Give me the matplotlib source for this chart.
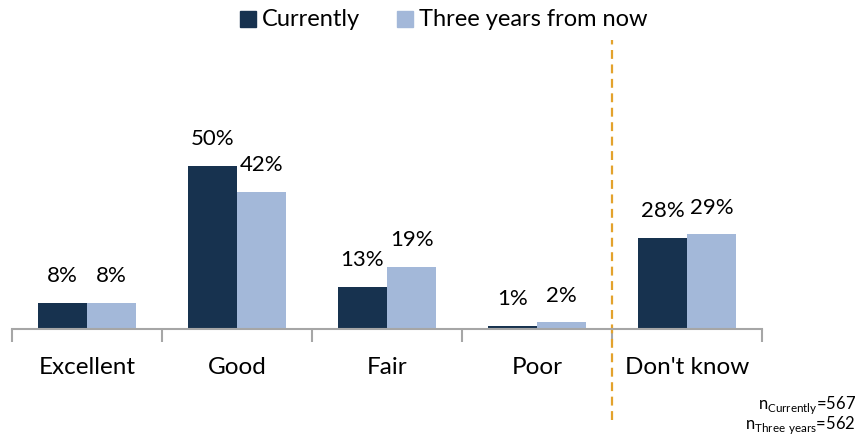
import matplotlib
matplotlib.use("Agg")
import matplotlib.pyplot as plt
from matplotlib.patches import Rectangle

categories = ["Excellent", "Good", "Fair", "Poor", "Don't know"]
currently = [8, 50, 13, 1, 28]
three_years = [8, 42, 19, 2, 29]
n_currently = 567
n_three_years = 562

dark = "#17324F"
light = "#A3B8D9"

plt.rcParams['font.family'] = ['Lato', 'DejaVu Sans']
plt.rcParams['mathtext.fontset'] = 'custom'
plt.rcParams['mathtext.rm'] = 'Lato'

fig = plt.figure(figsize=(8.59, 4.41), dpi=100)
ax = fig.add_axes([12 / 859, 1 - 329 / 441, 750 / 859, 196 / 441])

w = 0.327
x = list(range(len(categories)))
ax.bar([i - w / 2 for i in x], currently, width=w, color=dark)
ax.bar([i + w / 2 for i in x], three_years, width=w, color=light)

for i in x:
    ax.text(i - w / 2, currently[i] + 6.3, f"{currently[i]}%", ha='center', va='baseline', fontsize=16)
    ax.text(i + w / 2, three_years[i] + 6.3, f"{three_years[i]}%", ha='center', va='baseline', fontsize=16)

ax.set_xlim(-0.5, len(categories) - 0.5)
ax.set_ylim(0, 60)
ax.set_yticks([])
for s in ['top', 'right', 'left']:
    ax.spines[s].set_visible(False)
ax.spines['bottom'].set_color('#A6A6A6')
ax.spines['bottom'].set_linewidth(1.5)

ax.set_xticks([i - 0.5 for i in range(len(categories) + 1)])
ax.set_xticklabels([])
ax.tick_params(axis='x', which='major', length=9, width=1.5, color='#A6A6A6', direction='out')
ax.set_xticks(x, minor=True)
ax.set_xticklabels(categories, minor=True, fontsize=17.5)
ax.tick_params(axis='x', which='minor', length=0, pad=20)

ax.axvline(3.5, ymin=-0.464, ymax=1.474, color='#E3A22C', linewidth=1.6,
           linestyle=(0, (4, 2.5)), clip_on=False)

# legend
fig.patches.append(Rectangle((240 / 859, 1 - 27 / 441), 16 / 859, 16 / 441,
                             transform=fig.transFigure, color=dark))
fig.text(262 / 859, 1 - 19 / 441, "Currently", fontsize=17, va='center')
fig.patches.append(Rectangle((397 / 859, 1 - 27 / 441), 16 / 859, 16 / 441,
                             transform=fig.transFigure, color=light))
fig.text(419 / 859, 1 - 19 / 441, "Three years from now", fontsize=17, va='center')

fig.text(856 / 859, 1 - 405 / 441, r"n$_{\mathrm{Currently}}$=" + str(n_currently),
         ha='right', va='center', fontsize=12)
fig.text(856 / 859, 1 - 425 / 441, r"n$_{\mathrm{Three\ years}}$=" + str(n_three_years),
         ha='right', va='center', fontsize=12)

fig.savefig("out.png", dpi=100)
